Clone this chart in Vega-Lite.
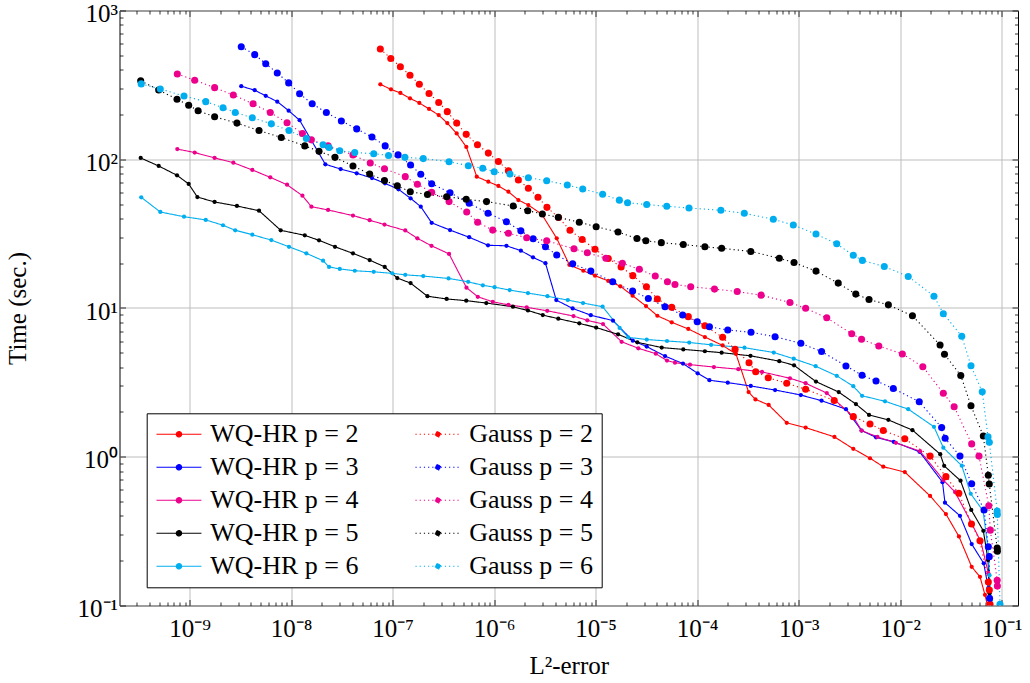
{
"$schema": "https://vega.github.io/schema/vega-lite/v6.json",
"width": 898.5, "height": 595,
"autosize": {"type": "none"},
"padding": {"left": 119.5, "top": 10.5, "right": 12, "bottom": 77.5},
"background": "white",
"config": {"view": {"stroke": "black", "strokeWidth": 1}, "font": "Liberation Serif"},
"datasets": {"d": [
{"s":"WQ-HR p = 2","m":"WQ","x":7.55e-8,"y":319},{"s":"WQ-HR p = 2","m":"WQ","x":9.62e-8,"y":295},{"s":"WQ-HR p = 2","m":"WQ","x":1.19e-7,"y":279},{"s":"WQ-HR p = 2","m":"WQ","x":1.48e-7,"y":257},{"s":"WQ-HR p = 2","m":"WQ","x":1.83e-7,"y":239},{"s":"WQ-HR p = 2","m":"WQ","x":2.28e-7,"y":218},{"s":"WQ-HR p = 2","m":"WQ","x":2.84e-7,"y":198},{"s":"WQ-HR p = 2","m":"WQ","x":3.45e-7,"y":175},{"s":"WQ-HR p = 2","m":"WQ","x":4.27e-7,"y":149},{"s":"WQ-HR p = 2","m":"WQ","x":5.31e-7,"y":121},{"s":"WQ-HR p = 2","m":"WQ","x":6.73e-7,"y":76.4},{"s":"WQ-HR p = 2","m":"WQ","x":8.75e-7,"y":70.6},{"s":"WQ-HR p = 2","m":"WQ","x":1.10e-6,"y":66.1},{"s":"WQ-HR p = 2","m":"WQ","x":1.38e-6,"y":60.5},{"s":"WQ-HR p = 2","m":"WQ","x":1.73e-6,"y":53.2},{"s":"WQ-HR p = 2","m":"WQ","x":2.17e-6,"y":49.2},{"s":"WQ-HR p = 2","m":"WQ","x":2.94e-6,"y":42.7},{"s":"WQ-HR p = 2","m":"WQ","x":4.13e-6,"y":29.4},{"s":"WQ-HR p = 2","m":"WQ","x":5.50e-6,"y":19.5},{"s":"WQ-HR p = 2","m":"WQ","x":7.55e-6,"y":17.8},{"s":"WQ-HR p = 2","m":"WQ","x":9.84e-6,"y":16.5},{"s":"WQ-HR p = 2","m":"WQ","x":1.33e-5,"y":15.2},{"s":"WQ-HR p = 2","m":"WQ","x":1.75e-5,"y":14.0},{"s":"WQ-HR p = 2","m":"WQ","x":2.31e-5,"y":12.1},{"s":"WQ-HR p = 2","m":"WQ","x":3.13e-5,"y":10.3},{"s":"WQ-HR p = 2","m":"WQ","x":4.05e-5,"y":8.87},{"s":"WQ-HR p = 2","m":"WQ","x":5.61e-5,"y":8.02},{"s":"WQ-HR p = 2","m":"WQ","x":8.17e-5,"y":7.23},{"s":"WQ-HR p = 2","m":"WQ","x":1.19e-4,"y":6.38},{"s":"WQ-HR p = 2","m":"WQ","x":1.78e-4,"y":5.60},{"s":"WQ-HR p = 2","m":"WQ","x":2.41e-4,"y":4.91},{"s":"WQ-HR p = 2","m":"WQ","x":3.21e-4,"y":2.72},{"s":"WQ-HR p = 2","m":"WQ","x":3.75e-4,"y":2.43},{"s":"WQ-HR p = 2","m":"WQ","x":5.06e-4,"y":2.23},{"s":"WQ-HR p = 2","m":"WQ","x":7.62e-4,"y":1.69},{"s":"WQ-HR p = 2","m":"WQ","x":1.17e-3,"y":1.57},{"s":"WQ-HR p = 2","m":"WQ","x":2.25e-3,"y":1.36},{"s":"WQ-HR p = 2","m":"WQ","x":3.45e-3,"y":1.13},{"s":"WQ-HR p = 2","m":"WQ","x":5.04e-3,"y":0.977},{"s":"WQ-HR p = 2","m":"WQ","x":6.81e-3,"y":0.857},{"s":"WQ-HR p = 2","m":"WQ","x":1.11e-2,"y":0.789},{"s":"WQ-HR p = 2","m":"WQ","x":1.97e-2,"y":0.545},{"s":"WQ-HR p = 2","m":"WQ","x":2.82e-2,"y":0.412},{"s":"WQ-HR p = 2","m":"WQ","x":3.79e-2,"y":0.291},{"s":"WQ-HR p = 2","m":"WQ","x":5.06e-2,"y":0.182},{"s":"WQ-HR p = 2","m":"WQ","x":6.11e-2,"y":0.156},{"s":"WQ-HR p = 2","m":"WQ","x":6.84e-2,"y":0.118},{"s":"WQ-HR p = 2","m":"WQ","x":7.38e-2,"y":0.095},
{"s":"WQ-HR p = 3","m":"WQ","x":3.22e-9,"y":310},{"s":"WQ-HR p = 3","m":"WQ","x":4.37e-9,"y":291},{"s":"WQ-HR p = 3","m":"WQ","x":5.61e-9,"y":267},{"s":"WQ-HR p = 3","m":"WQ","x":7.29e-9,"y":244},{"s":"WQ-HR p = 3","m":"WQ","x":9.44e-9,"y":212},{"s":"WQ-HR p = 3","m":"WQ","x":1.21e-8,"y":183},{"s":"WQ-HR p = 3","m":"WQ","x":2.17e-8,"y":92.5},{"s":"WQ-HR p = 3","m":"WQ","x":3.07e-8,"y":85.9},{"s":"WQ-HR p = 3","m":"WQ","x":4.42e-8,"y":80.5},{"s":"WQ-HR p = 3","m":"WQ","x":6.25e-8,"y":74.8},{"s":"WQ-HR p = 3","m":"WQ","x":8.39e-8,"y":68.9},{"s":"WQ-HR p = 3","m":"WQ","x":1.14e-7,"y":62.8},{"s":"WQ-HR p = 3","m":"WQ","x":1.50e-7,"y":54.6},{"s":"WQ-HR p = 3","m":"WQ","x":1.89e-7,"y":48.0},{"s":"WQ-HR p = 3","m":"WQ","x":2.42e-7,"y":37.4},{"s":"WQ-HR p = 3","m":"WQ","x":3.67e-7,"y":33.4},{"s":"WQ-HR p = 3","m":"WQ","x":5.67e-7,"y":29.9},{"s":"WQ-HR p = 3","m":"WQ","x":8.69e-7,"y":26.4},{"s":"WQ-HR p = 3","m":"WQ","x":1.32e-6,"y":26.2},{"s":"WQ-HR p = 3","m":"WQ","x":1.83e-6,"y":24.3},{"s":"WQ-HR p = 3","m":"WQ","x":2.41e-6,"y":21.9},{"s":"WQ-HR p = 3","m":"WQ","x":3.20e-6,"y":20.0},{"s":"WQ-HR p = 3","m":"WQ","x":4.09e-6,"y":11.3},{"s":"WQ-HR p = 3","m":"WQ","x":5.93e-6,"y":9.93},{"s":"WQ-HR p = 3","m":"WQ","x":8.95e-6,"y":8.95},{"s":"WQ-HR p = 3","m":"WQ","x":1.48e-5,"y":8.22},{"s":"WQ-HR p = 3","m":"WQ","x":2.32e-5,"y":6.03},{"s":"WQ-HR p = 3","m":"WQ","x":3.18e-5,"y":5.50},{"s":"WQ-HR p = 3","m":"WQ","x":4.82e-5,"y":4.75},{"s":"WQ-HR p = 3","m":"WQ","x":7.24e-5,"y":4.23},{"s":"WQ-HR p = 3","m":"WQ","x":1.01e-4,"y":3.64},{"s":"WQ-HR p = 3","m":"WQ","x":1.32e-4,"y":3.27},{"s":"WQ-HR p = 3","m":"WQ","x":2.00e-4,"y":3.15},{"s":"WQ-HR p = 3","m":"WQ","x":3.37e-4,"y":2.99},{"s":"WQ-HR p = 3","m":"WQ","x":5.85e-4,"y":2.81},{"s":"WQ-HR p = 3","m":"WQ","x":1.05e-3,"y":2.60},{"s":"WQ-HR p = 3","m":"WQ","x":1.68e-3,"y":2.38},{"s":"WQ-HR p = 3","m":"WQ","x":2.92e-3,"y":2.09},{"s":"WQ-HR p = 3","m":"WQ","x":4.16e-3,"y":1.50},{"s":"WQ-HR p = 3","m":"WQ","x":5.78e-3,"y":1.35},{"s":"WQ-HR p = 3","m":"WQ","x":8.63e-3,"y":1.26},{"s":"WQ-HR p = 3","m":"WQ","x":1.55e-2,"y":1.08},{"s":"WQ-HR p = 3","m":"WQ","x":2.61e-2,"y":0.675},{"s":"WQ-HR p = 3","m":"WQ","x":2.76e-2,"y":0.491},{"s":"WQ-HR p = 3","m":"WQ","x":3.88e-2,"y":0.401},{"s":"WQ-HR p = 3","m":"WQ","x":5.06e-2,"y":0.259},{"s":"WQ-HR p = 3","m":"WQ","x":6.65e-2,"y":0.192},{"s":"WQ-HR p = 3","m":"WQ","x":7.38e-2,"y":0.131},{"s":"WQ-HR p = 3","m":"WQ","x":7.62e-2,"y":0.1035},
{"s":"WQ-HR p = 4","m":"WQ","x":7.55e-10,"y":117},{"s":"WQ-HR p = 4","m":"WQ","x":1.12e-9,"y":111},{"s":"WQ-HR p = 4","m":"WQ","x":1.76e-9,"y":102},{"s":"WQ-HR p = 4","m":"WQ","x":2.69e-9,"y":94.8},{"s":"WQ-HR p = 4","m":"WQ","x":4.14e-9,"y":84.7},{"s":"WQ-HR p = 4","m":"WQ","x":6.22e-9,"y":75.6},{"s":"WQ-HR p = 4","m":"WQ","x":9.10e-9,"y":67.4},{"s":"WQ-HR p = 4","m":"WQ","x":1.29e-8,"y":56.9},{"s":"WQ-HR p = 4","m":"WQ","x":1.58e-8,"y":48.0},{"s":"WQ-HR p = 4","m":"WQ","x":2.31e-8,"y":45.6},{"s":"WQ-HR p = 4","m":"WQ","x":4.06e-8,"y":41.8},{"s":"WQ-HR p = 4","m":"WQ","x":5.93e-8,"y":38.9},{"s":"WQ-HR p = 4","m":"WQ","x":8.30e-8,"y":36.4},{"s":"WQ-HR p = 4","m":"WQ","x":1.33e-7,"y":33.2},{"s":"WQ-HR p = 4","m":"WQ","x":1.75e-7,"y":29.4},{"s":"WQ-HR p = 4","m":"WQ","x":2.41e-7,"y":26.2},{"s":"WQ-HR p = 4","m":"WQ","x":3.59e-7,"y":23.1},{"s":"WQ-HR p = 4","m":"WQ","x":5.33e-7,"y":13.7},{"s":"WQ-HR p = 4","m":"WQ","x":6.89e-7,"y":11.9},{"s":"WQ-HR p = 4","m":"WQ","x":9.68e-7,"y":11.0},{"s":"WQ-HR p = 4","m":"WQ","x":1.38e-6,"y":10.5},{"s":"WQ-HR p = 4","m":"WQ","x":2.09e-6,"y":10.1},{"s":"WQ-HR p = 4","m":"WQ","x":3.33e-6,"y":9.58},{"s":"WQ-HR p = 4","m":"WQ","x":6.04e-6,"y":8.83},{"s":"WQ-HR p = 4","m":"WQ","x":8.26e-6,"y":8.26},{"s":"WQ-HR p = 4","m":"WQ","x":1.18e-5,"y":7.80},{"s":"WQ-HR p = 4","m":"WQ","x":1.80e-5,"y":5.93},{"s":"WQ-HR p = 4","m":"WQ","x":2.63e-5,"y":5.36},{"s":"WQ-HR p = 4","m":"WQ","x":3.91e-5,"y":4.93},{"s":"WQ-HR p = 4","m":"WQ","x":5.04e-5,"y":4.43},{"s":"WQ-HR p = 4","m":"WQ","x":6.04e-5,"y":4.29},{"s":"WQ-HR p = 4","m":"WQ","x":8.49e-5,"y":4.16},{"s":"WQ-HR p = 4","m":"WQ","x":1.46e-4,"y":4.01},{"s":"WQ-HR p = 4","m":"WQ","x":2.54e-4,"y":3.88},{"s":"WQ-HR p = 4","m":"WQ","x":4.35e-4,"y":3.72},{"s":"WQ-HR p = 4","m":"WQ","x":8.20e-4,"y":3.37},{"s":"WQ-HR p = 4","m":"WQ","x":1.17e-3,"y":3.12},{"s":"WQ-HR p = 4","m":"WQ","x":1.89e-3,"y":2.68},{"s":"WQ-HR p = 4","m":"WQ","x":2.26e-3,"y":2.41},{"s":"WQ-HR p = 4","m":"WQ","x":3.43e-3,"y":1.87},{"s":"WQ-HR p = 4","m":"WQ","x":4.16e-3,"y":1.50},{"s":"WQ-HR p = 4","m":"WQ","x":5.97e-3,"y":1.36},{"s":"WQ-HR p = 4","m":"WQ","x":9.06e-3,"y":1.24},{"s":"WQ-HR p = 4","m":"WQ","x":1.57e-2,"y":1.09},{"s":"WQ-HR p = 4","m":"WQ","x":2.66e-2,"y":0.698},{"s":"WQ-HR p = 4","m":"WQ","x":3.47e-2,"y":0.579},{"s":"WQ-HR p = 4","m":"WQ","x":5.06e-2,"y":0.356},{"s":"WQ-HR p = 4","m":"WQ","x":6.25e-2,"y":0.267},{"s":"WQ-HR p = 4","m":"WQ","x":7.38e-2,"y":0.165},{"s":"WQ-HR p = 4","m":"WQ","x":7.67e-2,"y":0.109},
{"s":"WQ-HR p = 5","m":"WQ","x":3.29e-10,"y":102},{"s":"WQ-HR p = 5","m":"WQ","x":4.95e-10,"y":90.1},{"s":"WQ-HR p = 5","m":"WQ","x":7.50e-10,"y":78.0},{"s":"WQ-HR p = 5","m":"WQ","x":9.77e-10,"y":68.2},{"s":"WQ-HR p = 5","m":"WQ","x":1.19e-9,"y":55.7},{"s":"WQ-HR p = 5","m":"WQ","x":1.76e-9,"y":51.6},{"s":"WQ-HR p = 5","m":"WQ","x":2.92e-9,"y":48.5},{"s":"WQ-HR p = 5","m":"WQ","x":4.82e-9,"y":45.1},{"s":"WQ-HR p = 5","m":"WQ","x":7.88e-9,"y":33.3},{"s":"WQ-HR p = 5","m":"WQ","x":1.36e-8,"y":30.8},{"s":"WQ-HR p = 5","m":"WQ","x":1.88e-8,"y":28.5},{"s":"WQ-HR p = 5","m":"WQ","x":2.70e-8,"y":25.8},{"s":"WQ-HR p = 5","m":"WQ","x":4.06e-8,"y":23.3},{"s":"WQ-HR p = 5","m":"WQ","x":5.93e-8,"y":21.0},{"s":"WQ-HR p = 5","m":"WQ","x":8.34e-8,"y":18.9},{"s":"WQ-HR p = 5","m":"WQ","x":1.11e-7,"y":15.9},{"s":"WQ-HR p = 5","m":"WQ","x":1.50e-7,"y":14.7},{"s":"WQ-HR p = 5","m":"WQ","x":2.20e-7,"y":12.0},{"s":"WQ-HR p = 5","m":"WQ","x":3.40e-7,"y":11.5},{"s":"WQ-HR p = 5","m":"WQ","x":5.30e-7,"y":11.2},{"s":"WQ-HR p = 5","m":"WQ","x":8.36e-7,"y":10.8},{"s":"WQ-HR p = 5","m":"WQ","x":1.53e-6,"y":10.2},{"s":"WQ-HR p = 5","m":"WQ","x":2.15e-6,"y":9.62},{"s":"WQ-HR p = 5","m":"WQ","x":3.01e-6,"y":8.97},{"s":"WQ-HR p = 5","m":"WQ","x":4.28e-6,"y":8.47},{"s":"WQ-HR p = 5","m":"WQ","x":6.89e-6,"y":7.89},{"s":"WQ-HR p = 5","m":"WQ","x":1.01e-5,"y":7.39},{"s":"WQ-HR p = 5","m":"WQ","x":1.66e-5,"y":6.65},{"s":"WQ-HR p = 5","m":"WQ","x":2.57e-5,"y":5.88},{"s":"WQ-HR p = 5","m":"WQ","x":4.47e-5,"y":5.42},{"s":"WQ-HR p = 5","m":"WQ","x":7.29e-5,"y":5.27},{"s":"WQ-HR p = 5","m":"WQ","x":1.19e-4,"y":5.12},{"s":"WQ-HR p = 5","m":"WQ","x":1.74e-4,"y":5.01},{"s":"WQ-HR p = 5","m":"WQ","x":3.35e-4,"y":4.77},{"s":"WQ-HR p = 5","m":"WQ","x":6.44e-4,"y":4.39},{"s":"WQ-HR p = 5","m":"WQ","x":8.99e-4,"y":4.12},{"s":"WQ-HR p = 5","m":"WQ","x":1.48e-3,"y":3.20},{"s":"WQ-HR p = 5","m":"WQ","x":2.48e-3,"y":2.72},{"s":"WQ-HR p = 5","m":"WQ","x":3.66e-3,"y":2.26},{"s":"WQ-HR p = 5","m":"WQ","x":4.93e-3,"y":1.91},{"s":"WQ-HR p = 5","m":"WQ","x":7.64e-3,"y":1.77},{"s":"WQ-HR p = 5","m":"WQ","x":1.32e-2,"y":1.51},{"s":"WQ-HR p = 5","m":"WQ","x":2.48e-2,"y":1.04},{"s":"WQ-HR p = 5","m":"WQ","x":2.71e-2,"y":0.869},{"s":"WQ-HR p = 5","m":"WQ","x":3.93e-2,"y":0.690},{"s":"WQ-HR p = 5","m":"WQ","x":5.01e-2,"y":0.439},{"s":"WQ-HR p = 5","m":"WQ","x":6.59e-2,"y":0.318},{"s":"WQ-HR p = 5","m":"WQ","x":7.33e-2,"y":0.202},{"s":"WQ-HR p = 5","m":"WQ","x":7.59e-2,"y":0.121},
{"s":"WQ-HR p = 6","m":"WQ","x":3.33e-10,"y":55.5},{"s":"WQ-HR p = 6","m":"WQ","x":5.13e-10,"y":44.2},{"s":"WQ-HR p = 6","m":"WQ","x":8.79e-10,"y":41.1},{"s":"WQ-HR p = 6","m":"WQ","x":1.44e-9,"y":39.1},{"s":"WQ-HR p = 6","m":"WQ","x":2.13e-9,"y":36.0},{"s":"WQ-HR p = 6","m":"WQ","x":2.81e-9,"y":33.3},{"s":"WQ-HR p = 6","m":"WQ","x":4.14e-9,"y":31.1},{"s":"WQ-HR p = 6","m":"WQ","x":6.37e-9,"y":28.6},{"s":"WQ-HR p = 6","m":"WQ","x":9.51e-9,"y":25.8},{"s":"WQ-HR p = 6","m":"WQ","x":1.41e-8,"y":23.3},{"s":"WQ-HR p = 6","m":"WQ","x":2.06e-8,"y":20.8},{"s":"WQ-HR p = 6","m":"WQ","x":2.36e-8,"y":18.9},{"s":"WQ-HR p = 6","m":"WQ","x":3.01e-8,"y":18.3},{"s":"WQ-HR p = 6","m":"WQ","x":4.23e-8,"y":17.8},{"s":"WQ-HR p = 6","m":"WQ","x":6.50e-8,"y":17.5},{"s":"WQ-HR p = 6","m":"WQ","x":9.91e-8,"y":17.1},{"s":"WQ-HR p = 6","m":"WQ","x":1.33e-7,"y":16.7},{"s":"WQ-HR p = 6","m":"WQ","x":2.00e-7,"y":16.4},{"s":"WQ-HR p = 6","m":"WQ","x":3.55e-7,"y":15.8},{"s":"WQ-HR p = 6","m":"WQ","x":5.54e-7,"y":15.0},{"s":"WQ-HR p = 6","m":"WQ","x":7.73e-7,"y":14.2},{"s":"WQ-HR p = 6","m":"WQ","x":1.01e-6,"y":13.8},{"s":"WQ-HR p = 6","m":"WQ","x":1.42e-6,"y":13.2},{"s":"WQ-HR p = 6","m":"WQ","x":2.15e-6,"y":12.6},{"s":"WQ-HR p = 6","m":"WQ","x":3.35e-6,"y":12.0},{"s":"WQ-HR p = 6","m":"WQ","x":5.31e-6,"y":11.3},{"s":"WQ-HR p = 6","m":"WQ","x":7.50e-6,"y":10.8},{"s":"WQ-HR p = 6","m":"WQ","x":1.17e-5,"y":10.2},{"s":"WQ-HR p = 6","m":"WQ","x":1.72e-5,"y":7.34},{"s":"WQ-HR p = 6","m":"WQ","x":2.09e-5,"y":6.35},{"s":"WQ-HR p = 6","m":"WQ","x":3.18e-5,"y":6.14},{"s":"WQ-HR p = 6","m":"WQ","x":5.04e-5,"y":6.00},{"s":"WQ-HR p = 6","m":"WQ","x":8.34e-5,"y":5.86},{"s":"WQ-HR p = 6","m":"WQ","x":1.37e-4,"y":5.66},{"s":"WQ-HR p = 6","m":"WQ","x":2.92e-4,"y":5.41},{"s":"WQ-HR p = 6","m":"WQ","x":5.68e-4,"y":5.02},{"s":"WQ-HR p = 6","m":"WQ","x":8.93e-4,"y":4.56},{"s":"WQ-HR p = 6","m":"WQ","x":1.47e-3,"y":4.06},{"s":"WQ-HR p = 6","m":"WQ","x":2.37e-3,"y":3.50},{"s":"WQ-HR p = 6","m":"WQ","x":3.45e-3,"y":2.98},{"s":"WQ-HR p = 6","m":"WQ","x":4.21e-3,"y":2.57},{"s":"WQ-HR p = 6","m":"WQ","x":7.08e-3,"y":2.36},{"s":"WQ-HR p = 6","m":"WQ","x":1.20e-2,"y":2.09},{"s":"WQ-HR p = 6","m":"WQ","x":2.15e-2,"y":1.59},{"s":"WQ-HR p = 6","m":"WQ","x":2.66e-2,"y":1.15},{"s":"WQ-HR p = 6","m":"WQ","x":4.04e-2,"y":0.871},{"s":"WQ-HR p = 6","m":"WQ","x":4.95e-2,"y":0.564},{"s":"WQ-HR p = 6","m":"WQ","x":6.55e-2,"y":0.433},{"s":"WQ-HR p = 6","m":"WQ","x":7.29e-2,"y":0.251},{"s":"WQ-HR p = 6","m":"WQ","x":7.59e-2,"y":0.160},{"s":"WQ-HR p = 6","m":"WQ","x":7.85e-2,"y":0.109},
{"s":"Gauss p = 2","m":"G","x":7.55e-8,"y":551},{"s":"Gauss p = 2","m":"G","x":9.57e-8,"y":476},{"s":"Gauss p = 2","m":"G","x":1.19e-7,"y":419},{"s":"Gauss p = 2","m":"G","x":1.48e-7,"y":367},{"s":"Gauss p = 2","m":"G","x":1.83e-7,"y":319},{"s":"Gauss p = 2","m":"G","x":2.28e-7,"y":277},{"s":"Gauss p = 2","m":"G","x":2.84e-7,"y":241},{"s":"Gauss p = 2","m":"G","x":3.45e-7,"y":209},{"s":"Gauss p = 2","m":"G","x":4.27e-7,"y":175},{"s":"Gauss p = 2","m":"G","x":5.30e-7,"y":147},{"s":"Gauss p = 2","m":"G","x":6.84e-7,"y":125},{"s":"Gauss p = 2","m":"G","x":8.75e-7,"y":110},{"s":"Gauss p = 2","m":"G","x":1.10e-6,"y":96.6},{"s":"Gauss p = 2","m":"G","x":1.38e-6,"y":83.8},{"s":"Gauss p = 2","m":"G","x":1.73e-6,"y":72.6},{"s":"Gauss p = 2","m":"G","x":2.17e-6,"y":63.8},{"s":"Gauss p = 2","m":"G","x":2.70e-6,"y":55.5},{"s":"Gauss p = 2","m":"G","x":3.31e-6,"y":47.5},{"s":"Gauss p = 2","m":"G","x":4.31e-6,"y":40.6},{"s":"Gauss p = 2","m":"G","x":5.58e-6,"y":33.3},{"s":"Gauss p = 2","m":"G","x":7.36e-6,"y":28.9},{"s":"Gauss p = 2","m":"G","x":9.84e-6,"y":24.8},{"s":"Gauss p = 2","m":"G","x":1.33e-5,"y":21.5},{"s":"Gauss p = 2","m":"G","x":1.78e-5,"y":18.9},{"s":"Gauss p = 2","m":"G","x":2.32e-5,"y":16.5},{"s":"Gauss p = 2","m":"G","x":3.16e-5,"y":13.9},{"s":"Gauss p = 2","m":"G","x":4.05e-5,"y":11.5},{"s":"Gauss p = 2","m":"G","x":5.61e-5,"y":10.1},{"s":"Gauss p = 2","m":"G","x":8.17e-5,"y":8.75},{"s":"Gauss p = 2","m":"G","x":1.19e-4,"y":7.60},{"s":"Gauss p = 2","m":"G","x":1.78e-4,"y":6.35},{"s":"Gauss p = 2","m":"G","x":2.36e-4,"y":5.28},{"s":"Gauss p = 2","m":"G","x":3.24e-4,"y":4.29},{"s":"Gauss p = 2","m":"G","x":3.77e-4,"y":3.73},{"s":"Gauss p = 2","m":"G","x":5.01e-4,"y":3.40},{"s":"Gauss p = 2","m":"G","x":7.62e-4,"y":3.12},{"s":"Gauss p = 2","m":"G","x":1.17e-3,"y":2.84},{"s":"Gauss p = 2","m":"G","x":2.24e-3,"y":2.39},{"s":"Gauss p = 2","m":"G","x":3.45e-3,"y":1.86},{"s":"Gauss p = 2","m":"G","x":5.04e-3,"y":1.66},{"s":"Gauss p = 2","m":"G","x":6.81e-3,"y":1.50},{"s":"Gauss p = 2","m":"G","x":1.11e-2,"y":1.32},{"s":"Gauss p = 2","m":"G","x":1.97e-2,"y":1.01},{"s":"Gauss p = 2","m":"G","x":2.82e-2,"y":0.735},{"s":"Gauss p = 2","m":"G","x":3.78e-2,"y":0.568},{"s":"Gauss p = 2","m":"G","x":5.04e-2,"y":0.353},{"s":"Gauss p = 2","m":"G","x":6.11e-2,"y":0.272},{"s":"Gauss p = 2","m":"G","x":7.38e-2,"y":0.144},{"s":"Gauss p = 2","m":"G","x":7.55e-2,"y":0.127},{"s":"Gauss p = 2","m":"G","x":7.67e-2,"y":0.102},
{"s":"Gauss p = 3","m":"G","x":3.22e-9,"y":571},{"s":"Gauss p = 3","m":"G","x":4.37e-9,"y":505},{"s":"Gauss p = 3","m":"G","x":5.61e-9,"y":439},{"s":"Gauss p = 3","m":"G","x":7.29e-9,"y":380},{"s":"Gauss p = 3","m":"G","x":9.44e-9,"y":326},{"s":"Gauss p = 3","m":"G","x":1.21e-8,"y":276},{"s":"Gauss p = 3","m":"G","x":1.61e-8,"y":236},{"s":"Gauss p = 3","m":"G","x":2.22e-8,"y":206},{"s":"Gauss p = 3","m":"G","x":3.12e-8,"y":181},{"s":"Gauss p = 3","m":"G","x":4.42e-8,"y":160},{"s":"Gauss p = 3","m":"G","x":6.25e-8,"y":141},{"s":"Gauss p = 3","m":"G","x":8.43e-8,"y":123},{"s":"Gauss p = 3","m":"G","x":1.13e-7,"y":107},{"s":"Gauss p = 3","m":"G","x":1.50e-7,"y":91.5},{"s":"Gauss p = 3","m":"G","x":1.89e-7,"y":79.2},{"s":"Gauss p = 3","m":"G","x":2.42e-7,"y":68.5},{"s":"Gauss p = 3","m":"G","x":3.67e-7,"y":59.6},{"s":"Gauss p = 3","m":"G","x":5.67e-7,"y":50.6},{"s":"Gauss p = 3","m":"G","x":8.69e-7,"y":43.3},{"s":"Gauss p = 3","m":"G","x":1.32e-6,"y":38.0},{"s":"Gauss p = 3","m":"G","x":1.83e-6,"y":33.0},{"s":"Gauss p = 3","m":"G","x":2.42e-6,"y":29.2},{"s":"Gauss p = 3","m":"G","x":3.20e-6,"y":25.8},{"s":"Gauss p = 3","m":"G","x":4.13e-6,"y":22.7},{"s":"Gauss p = 3","m":"G","x":5.93e-6,"y":19.8},{"s":"Gauss p = 3","m":"G","x":8.95e-6,"y":17.7},{"s":"Gauss p = 3","m":"G","x":1.47e-5,"y":15.0},{"s":"Gauss p = 3","m":"G","x":2.31e-5,"y":13.0},{"s":"Gauss p = 3","m":"G","x":3.30e-5,"y":11.6},{"s":"Gauss p = 3","m":"G","x":4.82e-5,"y":10.2},{"s":"Gauss p = 3","m":"G","x":7.19e-5,"y":8.97},{"s":"Gauss p = 3","m":"G","x":1.00e-4,"y":8.09},{"s":"Gauss p = 3","m":"G","x":1.32e-4,"y":7.48},{"s":"Gauss p = 3","m":"G","x":2.00e-4,"y":7.11},{"s":"Gauss p = 3","m":"G","x":3.39e-4,"y":6.87},{"s":"Gauss p = 3","m":"G","x":5.85e-4,"y":6.41},{"s":"Gauss p = 3","m":"G","x":1.05e-3,"y":5.79},{"s":"Gauss p = 3","m":"G","x":1.68e-3,"y":5.10},{"s":"Gauss p = 3","m":"G","x":2.92e-3,"y":4.08},{"s":"Gauss p = 3","m":"G","x":4.21e-3,"y":3.53},{"s":"Gauss p = 3","m":"G","x":5.78e-3,"y":3.23},{"s":"Gauss p = 3","m":"G","x":8.55e-3,"y":2.88},{"s":"Gauss p = 3","m":"G","x":1.54e-2,"y":2.34},{"s":"Gauss p = 3","m":"G","x":2.56e-2,"y":1.57},{"s":"Gauss p = 3","m":"G","x":2.77e-2,"y":1.33},{"s":"Gauss p = 3","m":"G","x":3.88e-2,"y":1.01},{"s":"Gauss p = 3","m":"G","x":5.06e-2,"y":0.658},{"s":"Gauss p = 3","m":"G","x":6.70e-2,"y":0.439},{"s":"Gauss p = 3","m":"G","x":7.38e-2,"y":0.248},{"s":"Gauss p = 3","m":"G","x":7.54e-2,"y":0.213},{"s":"Gauss p = 3","m":"G","x":7.59e-2,"y":0.112},
{"s":"Gauss p = 4","m":"G","x":7.55e-10,"y":374},{"s":"Gauss p = 4","m":"G","x":1.12e-9,"y":340},{"s":"Gauss p = 4","m":"G","x":1.76e-9,"y":303},{"s":"Gauss p = 4","m":"G","x":2.69e-9,"y":270},{"s":"Gauss p = 4","m":"G","x":4.21e-9,"y":236},{"s":"Gauss p = 4","m":"G","x":6.22e-9,"y":206},{"s":"Gauss p = 4","m":"G","x":9.10e-9,"y":176},{"s":"Gauss p = 4","m":"G","x":1.29e-8,"y":149},{"s":"Gauss p = 4","m":"G","x":1.58e-8,"y":135},{"s":"Gauss p = 4","m":"G","x":2.31e-8,"y":123},{"s":"Gauss p = 4","m":"G","x":4.06e-8,"y":107},{"s":"Gauss p = 4","m":"G","x":6.01e-8,"y":94.4},{"s":"Gauss p = 4","m":"G","x":8.30e-8,"y":86.3},{"s":"Gauss p = 4","m":"G","x":1.33e-7,"y":76.4},{"s":"Gauss p = 4","m":"G","x":1.75e-7,"y":68.0},{"s":"Gauss p = 4","m":"G","x":2.42e-7,"y":60.0},{"s":"Gauss p = 4","m":"G","x":3.59e-7,"y":51.9},{"s":"Gauss p = 4","m":"G","x":5.36e-7,"y":44.2},{"s":"Gauss p = 4","m":"G","x":6.87e-7,"y":37.7},{"s":"Gauss p = 4","m":"G","x":9.66e-7,"y":33.4},{"s":"Gauss p = 4","m":"G","x":1.38e-6,"y":31.8},{"s":"Gauss p = 4","m":"G","x":2.09e-6,"y":29.7},{"s":"Gauss p = 4","m":"G","x":3.29e-6,"y":28.3},{"s":"Gauss p = 4","m":"G","x":6.11e-6,"y":25.0},{"s":"Gauss p = 4","m":"G","x":8.26e-6,"y":23.5},{"s":"Gauss p = 4","m":"G","x":1.26e-5,"y":21.6},{"s":"Gauss p = 4","m":"G","x":1.83e-5,"y":20.0},{"s":"Gauss p = 4","m":"G","x":2.69e-5,"y":18.2},{"s":"Gauss p = 4","m":"G","x":3.86e-5,"y":16.4},{"s":"Gauss p = 4","m":"G","x":5.09e-5,"y":15.0},{"s":"Gauss p = 4","m":"G","x":6.04e-5,"y":14.4},{"s":"Gauss p = 4","m":"G","x":8.63e-5,"y":13.9},{"s":"Gauss p = 4","m":"G","x":1.48e-4,"y":13.4},{"s":"Gauss p = 4","m":"G","x":2.48e-4,"y":12.9},{"s":"Gauss p = 4","m":"G","x":4.26e-4,"y":12.2},{"s":"Gauss p = 4","m":"G","x":8.20e-4,"y":10.9},{"s":"Gauss p = 4","m":"G","x":1.17e-3,"y":9.95},{"s":"Gauss p = 4","m":"G","x":1.89e-3,"y":8.59},{"s":"Gauss p = 4","m":"G","x":3.33e-3,"y":6.71},{"s":"Gauss p = 4","m":"G","x":4.16e-3,"y":6.17},{"s":"Gauss p = 4","m":"G","x":6.15e-3,"y":5.56},{"s":"Gauss p = 4","m":"G","x":1.05e-2,"y":4.91},{"s":"Gauss p = 4","m":"G","x":1.67e-2,"y":4.03},{"s":"Gauss p = 4","m":"G","x":2.66e-2,"y":2.67},{"s":"Gauss p = 4","m":"G","x":3.40e-2,"y":2.17},{"s":"Gauss p = 4","m":"G","x":5.06e-2,"y":1.22},{"s":"Gauss p = 4","m":"G","x":5.97e-2,"y":1.01},{"s":"Gauss p = 4","m":"G","x":7.46e-2,"y":0.468},{"s":"Gauss p = 4","m":"G","x":7.72e-2,"y":0.321},{"s":"Gauss p = 4","m":"G","x":9.02e-2,"y":0.148},{"s":"Gauss p = 4","m":"G","x":9.06e-2,"y":0.135},
{"s":"Gauss p = 5","m":"G","x":3.29e-10,"y":337},{"s":"Gauss p = 5","m":"G","x":4.95e-10,"y":292},{"s":"Gauss p = 5","m":"G","x":7.50e-10,"y":253},{"s":"Gauss p = 5","m":"G","x":9.77e-10,"y":231},{"s":"Gauss p = 5","m":"G","x":1.21e-9,"y":212},{"s":"Gauss p = 5","m":"G","x":1.76e-9,"y":193},{"s":"Gauss p = 5","m":"G","x":2.92e-9,"y":175},{"s":"Gauss p = 5","m":"G","x":4.82e-9,"y":156},{"s":"Gauss p = 5","m":"G","x":7.98e-9,"y":140},{"s":"Gauss p = 5","m":"G","x":1.36e-8,"y":123},{"s":"Gauss p = 5","m":"G","x":1.88e-8,"y":113},{"s":"Gauss p = 5","m":"G","x":2.70e-8,"y":103},{"s":"Gauss p = 5","m":"G","x":4.06e-8,"y":90.1},{"s":"Gauss p = 5","m":"G","x":5.93e-8,"y":79.6},{"s":"Gauss p = 5","m":"G","x":8.30e-8,"y":71.9},{"s":"Gauss p = 5","m":"G","x":1.11e-7,"y":66.4},{"s":"Gauss p = 5","m":"G","x":1.49e-7,"y":60.5},{"s":"Gauss p = 5","m":"G","x":2.20e-7,"y":57.9},{"s":"Gauss p = 5","m":"G","x":3.40e-7,"y":56.0},{"s":"Gauss p = 5","m":"G","x":5.30e-7,"y":53.8},{"s":"Gauss p = 5","m":"G","x":8.40e-7,"y":51.9},{"s":"Gauss p = 5","m":"G","x":1.54e-6,"y":48.5},{"s":"Gauss p = 5","m":"G","x":2.14e-6,"y":45.1},{"s":"Gauss p = 5","m":"G","x":2.98e-6,"y":42.9},{"s":"Gauss p = 5","m":"G","x":4.28e-6,"y":40.7},{"s":"Gauss p = 5","m":"G","x":6.89e-6,"y":37.7},{"s":"Gauss p = 5","m":"G","x":1.01e-5,"y":35.2},{"s":"Gauss p = 5","m":"G","x":1.66e-5,"y":32.4},{"s":"Gauss p = 5","m":"G","x":2.55e-5,"y":29.3},{"s":"Gauss p = 5","m":"G","x":3.12e-5,"y":28.3},{"s":"Gauss p = 5","m":"G","x":4.43e-5,"y":27.5},{"s":"Gauss p = 5","m":"G","x":7.29e-5,"y":26.7},{"s":"Gauss p = 5","m":"G","x":1.19e-4,"y":25.8},{"s":"Gauss p = 5","m":"G","x":1.74e-4,"y":25.2},{"s":"Gauss p = 5","m":"G","x":3.37e-4,"y":24.0},{"s":"Gauss p = 5","m":"G","x":6.44e-4,"y":21.6},{"s":"Gauss p = 5","m":"G","x":8.99e-4,"y":20.2},{"s":"Gauss p = 5","m":"G","x":1.48e-3,"y":17.7},{"s":"Gauss p = 5","m":"G","x":2.45e-3,"y":14.7},{"s":"Gauss p = 5","m":"G","x":3.65e-3,"y":12.4},{"s":"Gauss p = 5","m":"G","x":4.93e-3,"y":11.4},{"s":"Gauss p = 5","m":"G","x":7.64e-3,"y":10.5},{"s":"Gauss p = 5","m":"G","x":1.32e-2,"y":8.87},{"s":"Gauss p = 5","m":"G","x":2.47e-2,"y":5.64},{"s":"Gauss p = 5","m":"G","x":2.73e-2,"y":4.89},{"s":"Gauss p = 5","m":"G","x":3.95e-2,"y":3.52},{"s":"Gauss p = 5","m":"G","x":4.98e-2,"y":2.20},{"s":"Gauss p = 5","m":"G","x":6.59e-2,"y":1.38},{"s":"Gauss p = 5","m":"G","x":7.38e-2,"y":0.750},{"s":"Gauss p = 5","m":"G","x":7.54e-2,"y":0.656},{"s":"Gauss p = 5","m":"G","x":9.02e-2,"y":0.243},{"s":"Gauss p = 5","m":"G","x":9.06e-2,"y":0.232},
{"s":"Gauss p = 6","m":"G","x":3.33e-10,"y":321},{"s":"Gauss p = 6","m":"G","x":5.13e-10,"y":297},{"s":"Gauss p = 6","m":"G","x":8.79e-10,"y":266},{"s":"Gauss p = 6","m":"G","x":1.44e-9,"y":244},{"s":"Gauss p = 6","m":"G","x":2.13e-9,"y":222},{"s":"Gauss p = 6","m":"G","x":2.81e-9,"y":206},{"s":"Gauss p = 6","m":"G","x":4.14e-9,"y":190},{"s":"Gauss p = 6","m":"G","x":6.37e-9,"y":173},{"s":"Gauss p = 6","m":"G","x":9.51e-9,"y":156},{"s":"Gauss p = 6","m":"G","x":1.41e-8,"y":138},{"s":"Gauss p = 6","m":"G","x":2.06e-8,"y":125},{"s":"Gauss p = 6","m":"G","x":2.36e-8,"y":120},{"s":"Gauss p = 6","m":"G","x":3.01e-8,"y":114},{"s":"Gauss p = 6","m":"G","x":4.23e-8,"y":111},{"s":"Gauss p = 6","m":"G","x":6.50e-8,"y":109},{"s":"Gauss p = 6","m":"G","x":9.10e-8,"y":106},{"s":"Gauss p = 6","m":"G","x":1.32e-7,"y":103},{"s":"Gauss p = 6","m":"G","x":2.00e-7,"y":101},{"s":"Gauss p = 6","m":"G","x":3.59e-7,"y":96.3},{"s":"Gauss p = 6","m":"G","x":5.56e-7,"y":90.5},{"s":"Gauss p = 6","m":"G","x":7.71e-7,"y":86.9},{"s":"Gauss p = 6","m":"G","x":1.00e-6,"y":82.4},{"s":"Gauss p = 6","m":"G","x":1.43e-6,"y":79.6},{"s":"Gauss p = 6","m":"G","x":2.17e-6,"y":75.2},{"s":"Gauss p = 6","m":"G","x":3.29e-6,"y":71.7},{"s":"Gauss p = 6","m":"G","x":5.25e-6,"y":67.1},{"s":"Gauss p = 6","m":"G","x":7.45e-6,"y":63.1},{"s":"Gauss p = 6","m":"G","x":1.17e-5,"y":58.2},{"s":"Gauss p = 6","m":"G","x":1.71e-5,"y":53.1},{"s":"Gauss p = 6","m":"G","x":2.06e-5,"y":51.0},{"s":"Gauss p = 6","m":"G","x":3.18e-5,"y":49.6},{"s":"Gauss p = 6","m":"G","x":5.01e-5,"y":48.3},{"s":"Gauss p = 6","m":"G","x":8.30e-5,"y":47.0},{"s":"Gauss p = 6","m":"G","x":1.71e-4,"y":45.4},{"s":"Gauss p = 6","m":"G","x":2.91e-4,"y":43.3},{"s":"Gauss p = 6","m":"G","x":5.62e-4,"y":39.5},{"s":"Gauss p = 6","m":"G","x":8.85e-4,"y":36.1},{"s":"Gauss p = 6","m":"G","x":1.48e-3,"y":31.4},{"s":"Gauss p = 6","m":"G","x":2.37e-3,"y":27.0},{"s":"Gauss p = 6","m":"G","x":3.45e-3,"y":22.6},{"s":"Gauss p = 6","m":"G","x":4.24e-3,"y":20.9},{"s":"Gauss p = 6","m":"G","x":6.97e-3,"y":19.0},{"s":"Gauss p = 6","m":"G","x":1.20e-2,"y":16.3},{"s":"Gauss p = 6","m":"G","x":2.15e-2,"y":12.0},{"s":"Gauss p = 6","m":"G","x":2.66e-2,"y":9.16},{"s":"Gauss p = 6","m":"G","x":4.04e-2,"y":6.46},{"s":"Gauss p = 6","m":"G","x":4.98e-2,"y":4.09},{"s":"Gauss p = 6","m":"G","x":6.43e-2,"y":2.73},{"s":"Gauss p = 6","m":"G","x":7.33e-2,"y":1.36},{"s":"Gauss p = 6","m":"G","x":7.55e-2,"y":1.25},{"s":"Gauss p = 6","m":"G","x":9.02e-2,"y":0.432},{"s":"Gauss p = 6","m":"G","x":9.06e-2,"y":0.409},{"s":"Gauss p = 6","m":"G","x":9.62e-2,"y":0.102}
]},
"data": {"name": "d"},
"layer": [
{
"mark": {"type": "line", "strokeWidth": 1.1, "clip": true},
"encoding": {
"x": {"field": "x", "type": "quantitative",
 "scale": {"type": "log", "domain": [2.034e-10, 0.1447], "nice": false},
 "axis": {"orient": "bottom", "domain": false, "values": [3e-10,4e-10,5e-10,6e-10,7e-10,8e-10,9e-10,1e-9,2e-9,3e-9,4e-9,5e-9,6e-9,7e-9,8e-9,9e-9,1e-8,2e-8,3e-8,4e-8,5e-8,6e-8,7e-8,8e-8,9e-8,1e-7,2e-7,3e-7,4e-7,5e-7,6e-7,7e-7,8e-7,9e-7,1e-6,2e-6,3e-6,4e-6,5e-6,6e-6,7e-6,8e-6,9e-6,1e-5,2e-5,3e-5,4e-5,5e-5,6e-5,7e-5,8e-5,9e-5,1e-4,2e-4,3e-4,4e-4,5e-4,6e-4,7e-4,8e-4,9e-4,0.001,0.002,0.003,0.004,0.005,0.006,0.007,0.008,0.009,0.01,0.02,0.03,0.04,0.05,0.06,0.07,0.08,0.09,0.1],
  "labelExpr": "abs(log(datum.value)/LN10-round(log(datum.value)/LN10))>0.01?'':['10⁻¹⁰','10⁻⁹','10⁻⁸','10⁻⁷','10⁻⁶','10⁻⁵','10⁻⁴','10⁻³','10⁻²','10⁻¹'][round(log(datum.value)/LN10)+10]",
  "labelFont": "Liberation Serif", "labelFontSize": 25, "labelColor": "black", "labelOverlap": false, "labelFlush": false, "labelBound": false, "labelPadding": 17,
  "grid": true, "gridColor": "#bdbdbd", "gridWidth": 1,
  "gridOpacity": {"condition": {"test": "abs(log(datum.value)/LN10-round(log(datum.value)/LN10))<0.01", "value": 1}, "value": 0},
  "tickColor": "black", "tickWidth": 0.8,
  "tickSize": {"condition": {"test": "abs(log(datum.value)/LN10-round(log(datum.value)/LN10))<0.01", "value": -6}, "value": -3.5},
  "title": "L²-error", "titleFont": "Liberation Serif", "titleFontSize": 25, "titleFontWeight": "normal", "titleColor": "black", "titlePadding": 9}},
"y": {"field": "y", "type": "quantitative",
 "scale": {"type": "log", "domain": [0.1, 1000], "nice": false},
 "axis": {"orient": "left", "domain": false, "values": [0.1,0.2,0.3,0.4,0.5,0.6,0.7,0.8,0.9,1,2,3,4,5,6,7,8,9,10,20,30,40,50,60,70,80,90,100,200,300,400,500,600,700,800,900,1000],
  "labelExpr": "abs(log(datum.value)/LN10-round(log(datum.value)/LN10))>0.01?'':['10⁻¹','10⁰','10¹','10²','10³'][round(log(datum.value)/LN10)+1]",
  "labelFont": "Liberation Serif", "labelFontSize": 25, "labelColor": "black", "labelOverlap": false, "labelFlush": false, "labelBound": false, "labelPadding": 8, "labelOffset": 3,
  "grid": true, "gridColor": "#bdbdbd", "gridWidth": 1,
  "gridOpacity": {"condition": {"test": "abs(log(datum.value)/LN10-round(log(datum.value)/LN10))<0.01", "value": 1}, "value": 0},
  "tickColor": "black", "tickWidth": 0.8,
  "tickSize": {"condition": {"test": "abs(log(datum.value)/LN10-round(log(datum.value)/LN10))<0.01", "value": -6}, "value": -3.5},
  "title": "Time (sec.)", "titleFont": "Liberation Serif", "titleFontSize": 25, "titleFontWeight": "normal", "titleColor": "black", "titlePadding": 47}},
"color": {"field": "s", "type": "nominal",
 "scale": {"domain": ["WQ-HR p = 2","WQ-HR p = 3","WQ-HR p = 4","WQ-HR p = 5","WQ-HR p = 6","Gauss p = 2","Gauss p = 3","Gauss p = 4","Gauss p = 5","Gauss p = 6"],
  "range": ["#ff0000","#0000ff","#ec008c","#000000","#00aeef","#ff0000","#0000ff","#ec008c","#000000","#00aeef"]},
 "legend": {"title": null, "orient": "none", "legendX": 27.2, "legendY": 402.8, "columns": 2, "columnPadding": 54, "rowPadding": 7, "padding": 8,
  "strokeColor": "black", "fillColor": "white", "cornerRadius": 0,
  "labelFont": "Liberation Serif", "labelFontSize": 26, "labelColor": "black", "labelOffset": 29.5, "labelLimit": 0,
  "symbolType": "M-1,0L3,0M0.76,0A0.24,0.24,0,1,0,1.24,0A0.24,0.24,0,1,0,0.76,0", "symbolSize": 506, "symbolStrokeWidth": 1.1}},
"strokeDash": {"field": "s", "type": "nominal",
 "scale": {"domain": ["WQ-HR p = 2","WQ-HR p = 3","WQ-HR p = 4","WQ-HR p = 5","WQ-HR p = 6","Gauss p = 2","Gauss p = 3","Gauss p = 4","Gauss p = 5","Gauss p = 6"],
  "range": [[1,0],[1,0],[1,0],[1,0],[1,0],[1.2,3],[1.2,3],[1.2,3],[1.2,3],[1.2,3]]},
 "legend": {"title": null, "orient": "none", "legendX": 27.2, "legendY": 402.8, "columns": 2, "columnPadding": 54, "rowPadding": 7, "padding": 8,
  "strokeColor": "black", "fillColor": "white", "cornerRadius": 0,
  "labelFont": "Liberation Serif", "labelFontSize": 26, "labelColor": "black", "labelOffset": 29.5, "labelLimit": 0,
  "symbolType": "M-1,0L3,0M0.76,0A0.24,0.24,0,1,0,1.24,0A0.24,0.24,0,1,0,0.76,0", "symbolSize": 506, "symbolStrokeWidth": 1.1}}
}
},
{
"mark": {"type": "circle", "opacity": 1, "clip": true},
"encoding": {
"x": {"field": "x", "type": "quantitative",
 "axis": {"orient": "top", "domain": false, "labels": false, "title": null, "grid": false, "values": [3e-10,4e-10,5e-10,6e-10,7e-10,8e-10,9e-10,1e-9,2e-9,3e-9,4e-9,5e-9,6e-9,7e-9,8e-9,9e-9,1e-8,2e-8,3e-8,4e-8,5e-8,6e-8,7e-8,8e-8,9e-8,1e-7,2e-7,3e-7,4e-7,5e-7,6e-7,7e-7,8e-7,9e-7,1e-6,2e-6,3e-6,4e-6,5e-6,6e-6,7e-6,8e-6,9e-6,1e-5,2e-5,3e-5,4e-5,5e-5,6e-5,7e-5,8e-5,9e-5,1e-4,2e-4,3e-4,4e-4,5e-4,6e-4,7e-4,8e-4,9e-4,0.001,0.002,0.003,0.004,0.005,0.006,0.007,0.008,0.009,0.01,0.02,0.03,0.04,0.05,0.06,0.07,0.08,0.09,0.1],
  "tickColor": "black", "tickWidth": 0.8,
  "tickSize": {"condition": {"test": "abs(log(datum.value)/LN10-round(log(datum.value)/LN10))<0.01", "value": -6}, "value": -3.5}}},
"y": {"field": "y", "type": "quantitative",
 "axis": {"orient": "right", "domain": false, "labels": false, "title": null, "grid": false, "values": [0.1,0.2,0.3,0.4,0.5,0.6,0.7,0.8,0.9,1,2,3,4,5,6,7,8,9,10,20,30,40,50,60,70,80,90,100,200,300,400,500,600,700,800,900,1000],
  "tickColor": "black", "tickWidth": 0.8,
  "tickSize": {"condition": {"test": "abs(log(datum.value)/LN10-round(log(datum.value)/LN10))<0.01", "value": -6}, "value": -3.5}}},
"color": {"field": "s", "type": "nominal",
 "legend": {"title": null, "orient": "none", "legendX": 27.2, "legendY": 402.8, "columns": 2, "columnPadding": 54, "rowPadding": 7, "padding": 8,
  "strokeColor": "black", "fillColor": "white", "cornerRadius": 0,
  "labelFont": "Liberation Serif", "labelFontSize": 26, "labelColor": "black", "labelOffset": 29.5, "labelLimit": 0,
  "symbolType": "M-1,0L3,0M0.76,0A0.24,0.24,0,1,0,1.24,0A0.24,0.24,0,1,0,0.76,0", "symbolSize": 506, "symbolStrokeWidth": 1.1}},
"size": {"field": "m", "type": "ordinal", "scale": {"domain": ["WQ","G"], "range": [18, 50]}, "legend": null}
}
}
],
"resolve": {"axis": {"x": "independent", "y": "independent"}}
}
